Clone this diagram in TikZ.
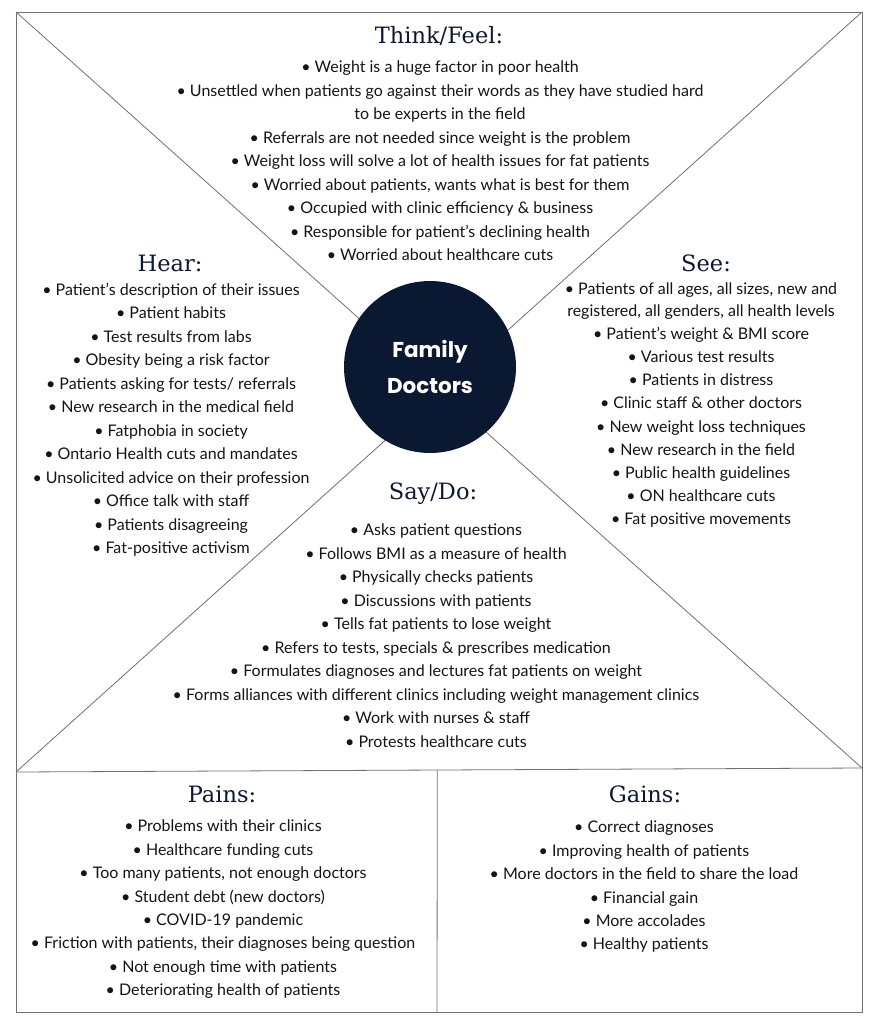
\documentclass[tikz,border=0pt]{standalone}
\usepackage{fontspec}
\usepackage{xcolor}
\setmainfont{Lato}
\newfontfamily\headfont{DejaVu Serif}
\newfontfamily\circfont{Poppins}
\usetikzlibrary{positioning, calc}

\definecolor{navy}{HTML}{0B1832}
\definecolor{linegray}{HTML}{707070}

\begin{document}
\begin{tikzpicture}[x=1pt, y=-1pt,
  heading/.style={anchor=base, text=navy, inner sep=0pt, font=\headfont\fontsize{22.5}{26}\selectfont},
  items/.style={anchor=north, align=center, inner sep=0pt, text=black!92, font=\fontsize{16}{23.5}\selectfont},
  frame/.style={draw=linegray, line width=0.8pt}]
\useasboundingbox (0,0) rectangle (876,1024);

% outer frame and dividers
\coordinate (tl) at (16,12);
\coordinate (tr) at (862,12);
\coordinate (ml) at (16,772);
\coordinate (mr) at (862,768);
\coordinate (bl) at (16,1012);
\coordinate (br) at (862,1012);
\coordinate (mt) at ($(ml)!0.498!(mr)$);
\coordinate (mb) at (437,1012);
\draw[frame] (tl) -- (tr) -- (br) -- (bl) -- cycle;
\draw[frame] (ml) -- (mr);
\draw[frame] (mt) -- (mb);
\draw[frame] (tl) -- (mr);
\draw[frame] (tr) -- (ml);

% centre
\node[circle, fill=navy, minimum size=172pt, inner sep=0pt, align=center,
  text=white, font=\circfont\bfseries\fontsize{21.5}{36}\selectfont] (core) at (430,367) {Family\\Doctors};

% Think/Feel
\node[heading] (thinkhead) at (439,44) {Think/Feel:};
\node[items] (thinklist) at (440,61) {%
• Weight is a huge factor in poor health\\
• Unsettled when patients go against their words as they have studied hard\\
to be experts in the field\\
• Referrals are not needed since weight is the problem\\
• Weight loss will solve a lot of health issues for fat patients\\
• Worried about patients, wants what is best for them\\
• Occupied with clinic efficiency \& business\\
• Responsible for patient’s declining health\\
• Worried about healthcare cuts};

% Hear
\node[heading] (hearhead) at (170,271) {Hear:};
\node[items] (hearlist) at (171,283) {%
• Patient’s description of their issues\\
• Patient habits\\
• Test results from labs\\
• Obesity being a risk factor\\
• Patients asking for tests/ referrals\\
• New research in the medical field\\
• Fatphobia in society\\
• Ontario Health cuts and mandates\\
• Unsolicited advice on their profession\\
• Office talk with staff\\
• Patients disagreeing\\
• Fat-positive activism};

% See
\node[heading] (seehead) at (706,271) {See:};
\node[items, font=\fontsize{16}{23.2}\selectfont] (seelist) at (701,283) {%
• Patients of all ages, all sizes, new and\\[-2pt]
registered, all genders, all health levels\\
• Patient’s weight \& BMI score\\
• Various test results\\
• Patients in distress\\
• Clinic staff \& other doctors\\
• New weight loss techniques\\
• New research in the field\\
• Public health guidelines\\
• ON healthcare cuts\\
• Fat positive movements};

% Say/Do
\node[heading] (sayhead) at (433,499) {Say/Do:};
\node[items] (saylist) at (436,524) {%
• Asks patient questions\\
• Follows BMI as a measure of health\\
• Physically checks patients\\
• Discussions with patients\\
• Tells fat patients to lose weight\\
• Refers to tests, specials \& prescribes medication\\
• Formulates diagnoses and lectures fat patients on weight\\
• Forms alliances with different clinics including weight management clinics\\
• Work with nurses \& staff\\
• Protests healthcare cuts};

% Pains
\node[heading] (painhead) at (222,802) {Pains:};
\node[items, font=\fontsize{16}{23.4}\selectfont] (painlist) at (223,820) {%
• Problems with their clinics\\
• Healthcare funding cuts\\
• Too many patients, not enough doctors\\
• Student debt (new doctors)\\
• COVID-19 pandemic\\
• Friction with patients, their diagnoses being question\\
• Not enough time with patients\\
• Deteriorating health of patients};

% Gains
\node[heading] (gainhead) at (645,802) {Gains:};
\node[items, font=\fontsize{16}{23.4}\selectfont] (gainlist) at (644,821) {%
• Correct diagnoses\\
• Improving health of patients\\
• More doctors in the field to share the load\\
• Financial gain\\
• More accolades\\
• Healthy patients};
\end{tikzpicture}
\end{document}
